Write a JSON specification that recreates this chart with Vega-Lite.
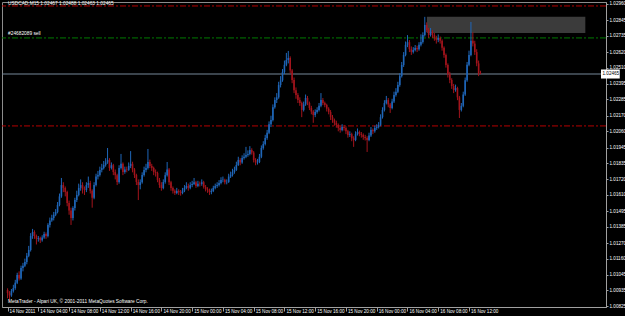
{
  "$schema": "https://vega.github.io/schema/vega-lite/v6.json",
  "width": 604,
  "height": 305,
  "autosize": {"type": "none"},
  "padding": {"left": 2, "top": 2, "right": 19, "bottom": 9},
  "background": "#000000",
  "config": {"view": {"stroke": "#8c8c8c", "strokeWidth": 1}, "font": "Liberation Sans"},
  "datasets": {
    "bars": [
{"i":0,"o":1.00938,"h":1.00950,"l":1.00880,"c":1.00917},
{"i":1,"o":1.00917,"h":1.00930,"l":1.00853,"c":1.00900},
{"i":2,"o":1.00900,"h":1.00945,"l":1.00890,"c":1.00930},
{"i":3,"o":1.00930,"h":1.00975,"l":1.00920,"c":1.00952},
{"i":4,"o":1.00952,"h":1.01010,"l":1.00940,"c":1.00990},
{"i":5,"o":1.00990,"h":1.01060,"l":1.00980,"c":1.01044},
{"i":6,"o":1.01044,"h":1.01070,"l":1.01005,"c":1.01020},
{"i":7,"o":1.01020,"h":1.01110,"l":1.01010,"c":1.01094},
{"i":8,"o":1.01094,"h":1.01130,"l":1.01070,"c":1.01110},
{"i":9,"o":1.01110,"h":1.01160,"l":1.01100,"c":1.01136},
{"i":10,"o":1.01136,"h":1.01200,"l":1.01120,"c":1.01180},
{"i":11,"o":1.01180,"h":1.01250,"l":1.01170,"c":1.01221},
{"i":12,"o":1.01221,"h":1.01340,"l":1.01210,"c":1.01320},
{"i":13,"o":1.01320,"h":1.01370,"l":1.01300,"c":1.01348},
{"i":14,"o":1.01348,"h":1.01360,"l":1.01300,"c":1.01320},
{"i":15,"o":1.01320,"h":1.01330,"l":1.01260,"c":1.01300},
{"i":16,"o":1.01300,"h":1.01320,"l":1.01280,"c":1.01306},
{"i":17,"o":1.01306,"h":1.01315,"l":1.01270,"c":1.01290},
{"i":18,"o":1.01290,"h":1.01325,"l":1.01280,"c":1.01310},
{"i":19,"o":1.01310,"h":1.01350,"l":1.01300,"c":1.01334},
{"i":20,"o":1.01334,"h":1.01345,"l":1.01300,"c":1.01320},
{"i":21,"o":1.01320,"h":1.01410,"l":1.01310,"c":1.01398},
{"i":22,"o":1.01398,"h":1.01450,"l":1.01380,"c":1.01430},
{"i":23,"o":1.01430,"h":1.01470,"l":1.01420,"c":1.01447},
{"i":24,"o":1.01447,"h":1.01490,"l":1.01430,"c":1.01470},
{"i":25,"o":1.01470,"h":1.01510,"l":1.01460,"c":1.01490},
{"i":26,"o":1.01490,"h":1.01560,"l":1.01480,"c":1.01539},
{"i":27,"o":1.01539,"h":1.01620,"l":1.01530,"c":1.01600},
{"i":28,"o":1.01600,"h":1.01730,"l":1.01590,"c":1.01680},
{"i":29,"o":1.01680,"h":1.01700,"l":1.01630,"c":1.01660},
{"i":30,"o":1.01660,"h":1.01670,"l":1.01600,"c":1.01631},
{"i":31,"o":1.01631,"h":1.01640,"l":1.01530,"c":1.01553},
{"i":32,"o":1.01553,"h":1.01570,"l":1.01470,"c":1.01500},
{"i":33,"o":1.01500,"h":1.01520,"l":1.01398,"c":1.01447},
{"i":34,"o":1.01447,"h":1.01530,"l":1.01430,"c":1.01518},
{"i":35,"o":1.01518,"h":1.01590,"l":1.01500,"c":1.01574},
{"i":36,"o":1.01574,"h":1.01640,"l":1.01560,"c":1.01610},
{"i":37,"o":1.01610,"h":1.01690,"l":1.01600,"c":1.01660},
{"i":38,"o":1.01660,"h":1.01720,"l":1.01640,"c":1.01680},
{"i":39,"o":1.01680,"h":1.01700,"l":1.01620,"c":1.01650},
{"i":40,"o":1.01650,"h":1.01670,"l":1.01610,"c":1.01645},
{"i":41,"o":1.01645,"h":1.01700,"l":1.01630,"c":1.01680},
{"i":42,"o":1.01680,"h":1.01740,"l":1.01660,"c":1.01695},
{"i":43,"o":1.01695,"h":1.01710,"l":1.01620,"c":1.01640},
{"i":44,"o":1.01640,"h":1.01650,"l":1.01520,"c":1.01590},
{"i":45,"o":1.01590,"h":1.01700,"l":1.01580,"c":1.01680},
{"i":46,"o":1.01680,"h":1.01760,"l":1.01670,"c":1.01740},
{"i":47,"o":1.01740,"h":1.01780,"l":1.01720,"c":1.01751},
{"i":48,"o":1.01751,"h":1.01810,"l":1.01740,"c":1.01787},
{"i":49,"o":1.01787,"h":1.01830,"l":1.01770,"c":1.01800},
{"i":50,"o":1.01800,"h":1.01850,"l":1.01790,"c":1.01822},
{"i":51,"o":1.01822,"h":1.01870,"l":1.01810,"c":1.01840},
{"i":52,"o":1.01840,"h":1.01942,"l":1.01830,"c":1.01857},
{"i":53,"o":1.01857,"h":1.01870,"l":1.01780,"c":1.01801},
{"i":54,"o":1.01801,"h":1.01840,"l":1.01790,"c":1.01820},
{"i":55,"o":1.01820,"h":1.01830,"l":1.01750,"c":1.01772},
{"i":56,"o":1.01772,"h":1.01790,"l":1.01720,"c":1.01750},
{"i":57,"o":1.01750,"h":1.01760,"l":1.01680,"c":1.01702},
{"i":58,"o":1.01702,"h":1.01820,"l":1.01690,"c":1.01801},
{"i":59,"o":1.01801,"h":1.01900,"l":1.01790,"c":1.01830},
{"i":60,"o":1.01830,"h":1.01840,"l":1.01750,"c":1.01772},
{"i":61,"o":1.01772,"h":1.01810,"l":1.01760,"c":1.01790},
{"i":62,"o":1.01790,"h":1.01810,"l":1.01770,"c":1.01787},
{"i":63,"o":1.01787,"h":1.01840,"l":1.01780,"c":1.01815},
{"i":64,"o":1.01815,"h":1.01920,"l":1.01800,"c":1.01830},
{"i":65,"o":1.01830,"h":1.01845,"l":1.01770,"c":1.01790},
{"i":66,"o":1.01790,"h":1.01800,"l":1.01730,"c":1.01751},
{"i":67,"o":1.01751,"h":1.01760,"l":1.01680,"c":1.01702},
{"i":68,"o":1.01702,"h":1.01720,"l":1.01574,"c":1.01680},
{"i":69,"o":1.01680,"h":1.01720,"l":1.01650,"c":1.01700},
{"i":70,"o":1.01700,"h":1.01770,"l":1.01690,"c":1.01751},
{"i":71,"o":1.01751,"h":1.01810,"l":1.01740,"c":1.01787},
{"i":72,"o":1.01787,"h":1.01830,"l":1.01770,"c":1.01800},
{"i":73,"o":1.01800,"h":1.01935,"l":1.01790,"c":1.01843},
{"i":74,"o":1.01843,"h":1.01860,"l":1.01800,"c":1.01815},
{"i":75,"o":1.01815,"h":1.01830,"l":1.01780,"c":1.01801},
{"i":76,"o":1.01801,"h":1.01810,"l":1.01750,"c":1.01772},
{"i":77,"o":1.01772,"h":1.01790,"l":1.01740,"c":1.01765},
{"i":78,"o":1.01765,"h":1.01775,"l":1.01700,"c":1.01716},
{"i":79,"o":1.01716,"h":1.01730,"l":1.01660,"c":1.01680},
{"i":80,"o":1.01680,"h":1.01700,"l":1.01640,"c":1.01659},
{"i":81,"o":1.01659,"h":1.01720,"l":1.01650,"c":1.01702},
{"i":82,"o":1.01702,"h":1.01770,"l":1.01690,"c":1.01750},
{"i":83,"o":1.01750,"h":1.01843,"l":1.01740,"c":1.01790},
{"i":84,"o":1.01790,"h":1.01800,"l":1.01680,"c":1.01700},
{"i":85,"o":1.01700,"h":1.01710,"l":1.01640,"c":1.01659},
{"i":86,"o":1.01659,"h":1.01670,"l":1.01620,"c":1.01640},
{"i":87,"o":1.01640,"h":1.01650,"l":1.01610,"c":1.01624},
{"i":88,"o":1.01624,"h":1.01660,"l":1.01615,"c":1.01638},
{"i":89,"o":1.01638,"h":1.01650,"l":1.01610,"c":1.01630},
{"i":90,"o":1.01630,"h":1.01645,"l":1.01605,"c":1.01624},
{"i":91,"o":1.01624,"h":1.01660,"l":1.01615,"c":1.01640},
{"i":92,"o":1.01640,"h":1.01680,"l":1.01630,"c":1.01660},
{"i":93,"o":1.01660,"h":1.01700,"l":1.01650,"c":1.01673},
{"i":94,"o":1.01673,"h":1.01690,"l":1.01640,"c":1.01660},
{"i":95,"o":1.01660,"h":1.01700,"l":1.01650,"c":1.01680},
{"i":96,"o":1.01680,"h":1.01710,"l":1.01665,"c":1.01688},
{"i":97,"o":1.01688,"h":1.01730,"l":1.01680,"c":1.01700},
{"i":98,"o":1.01700,"h":1.01710,"l":1.01660,"c":1.01673},
{"i":99,"o":1.01673,"h":1.01710,"l":1.01665,"c":1.01690},
{"i":100,"o":1.01690,"h":1.01705,"l":1.01670,"c":1.01688},
{"i":101,"o":1.01688,"h":1.01720,"l":1.01675,"c":1.01700},
{"i":102,"o":1.01700,"h":1.01710,"l":1.01655,"c":1.01666},
{"i":103,"o":1.01666,"h":1.01680,"l":1.01635,"c":1.01650},
{"i":104,"o":1.01650,"h":1.01665,"l":1.01625,"c":1.01645},
{"i":105,"o":1.01645,"h":1.01655,"l":1.01610,"c":1.01630},
{"i":106,"o":1.01630,"h":1.01655,"l":1.01615,"c":1.01638},
{"i":107,"o":1.01638,"h":1.01675,"l":1.01630,"c":1.01660},
{"i":108,"o":1.01660,"h":1.01690,"l":1.01650,"c":1.01673},
{"i":109,"o":1.01673,"h":1.01700,"l":1.01660,"c":1.01680},
{"i":110,"o":1.01680,"h":1.01715,"l":1.01670,"c":1.01695},
{"i":111,"o":1.01695,"h":1.01735,"l":1.01685,"c":1.01716},
{"i":112,"o":1.01716,"h":1.01740,"l":1.01700,"c":1.01718},
{"i":113,"o":1.01718,"h":1.01725,"l":1.01685,"c":1.01700},
{"i":114,"o":1.01700,"h":1.01720,"l":1.01685,"c":1.01702},
{"i":115,"o":1.01702,"h":1.01760,"l":1.01695,"c":1.01740},
{"i":116,"o":1.01740,"h":1.01775,"l":1.01730,"c":1.01751},
{"i":117,"o":1.01751,"h":1.01795,"l":1.01740,"c":1.01772},
{"i":118,"o":1.01772,"h":1.01810,"l":1.01760,"c":1.01787},
{"i":119,"o":1.01787,"h":1.01845,"l":1.01780,"c":1.01822},
{"i":120,"o":1.01822,"h":1.01880,"l":1.01815,"c":1.01857},
{"i":121,"o":1.01857,"h":1.01870,"l":1.01820,"c":1.01840},
{"i":122,"o":1.01840,"h":1.01890,"l":1.01830,"c":1.01871},
{"i":123,"o":1.01871,"h":1.01905,"l":1.01860,"c":1.01880},
{"i":124,"o":1.01880,"h":1.01950,"l":1.01870,"c":1.01893},
{"i":125,"o":1.01893,"h":1.01925,"l":1.01880,"c":1.01900},
{"i":126,"o":1.01900,"h":1.01955,"l":1.01890,"c":1.01928},
{"i":127,"o":1.01928,"h":1.01940,"l":1.01895,"c":1.01910},
{"i":128,"o":1.01910,"h":1.01920,"l":1.01840,"c":1.01857},
{"i":129,"o":1.01857,"h":1.01870,"l":1.01820,"c":1.01840},
{"i":130,"o":1.01840,"h":1.01865,"l":1.01825,"c":1.01843},
{"i":131,"o":1.01843,"h":1.01900,"l":1.01835,"c":1.01880},
{"i":132,"o":1.01880,"h":1.01960,"l":1.01870,"c":1.01942},
{"i":133,"o":1.01942,"h":1.01990,"l":1.01930,"c":1.01970},
{"i":134,"o":1.01970,"h":1.02035,"l":1.01960,"c":1.02013},
{"i":135,"o":1.02013,"h":1.02070,"l":1.02000,"c":1.02050},
{"i":136,"o":1.02050,"h":1.02130,"l":1.02040,"c":1.02110},
{"i":137,"o":1.02110,"h":1.02170,"l":1.02090,"c":1.02140},
{"i":138,"o":1.02140,"h":1.02250,"l":1.02130,"c":1.02230},
{"i":139,"o":1.02230,"h":1.02300,"l":1.02220,"c":1.02281},
{"i":140,"o":1.02281,"h":1.02330,"l":1.02260,"c":1.02300},
{"i":141,"o":1.02300,"h":1.02410,"l":1.02290,"c":1.02387},
{"i":142,"o":1.02387,"h":1.02450,"l":1.02370,"c":1.02420},
{"i":143,"o":1.02420,"h":1.02500,"l":1.02410,"c":1.02479},
{"i":144,"o":1.02479,"h":1.02560,"l":1.02465,"c":1.02530},
{"i":145,"o":1.02530,"h":1.02614,"l":1.02520,"c":1.02564},
{"i":146,"o":1.02564,"h":1.02628,"l":1.02540,"c":1.02578},
{"i":147,"o":1.02578,"h":1.02590,"l":1.02470,"c":1.02490},
{"i":148,"o":1.02490,"h":1.02500,"l":1.02400,"c":1.02423},
{"i":149,"o":1.02423,"h":1.02440,"l":1.02330,"c":1.02350},
{"i":150,"o":1.02350,"h":1.02370,"l":1.02290,"c":1.02317},
{"i":151,"o":1.02317,"h":1.02330,"l":1.02260,"c":1.02281},
{"i":152,"o":1.02281,"h":1.02300,"l":1.02240,"c":1.02260},
{"i":153,"o":1.02260,"h":1.02270,"l":1.02160,"c":1.02211},
{"i":154,"o":1.02211,"h":1.02270,"l":1.02200,"c":1.02250},
{"i":155,"o":1.02250,"h":1.02320,"l":1.02240,"c":1.02296},
{"i":156,"o":1.02296,"h":1.02310,"l":1.02245,"c":1.02260},
{"i":157,"o":1.02260,"h":1.02270,"l":1.02210,"c":1.02225},
{"i":158,"o":1.02225,"h":1.02240,"l":1.02180,"c":1.02200},
{"i":159,"o":1.02200,"h":1.02210,"l":1.02120,"c":1.02175},
{"i":160,"o":1.02175,"h":1.02215,"l":1.02160,"c":1.02197},
{"i":161,"o":1.02197,"h":1.02230,"l":1.02185,"c":1.02211},
{"i":162,"o":1.02211,"h":1.02260,"l":1.02200,"c":1.02240},
{"i":163,"o":1.02240,"h":1.02330,"l":1.02230,"c":1.02281},
{"i":164,"o":1.02281,"h":1.02295,"l":1.02245,"c":1.02260},
{"i":165,"o":1.02260,"h":1.02270,"l":1.02230,"c":1.02246},
{"i":166,"o":1.02246,"h":1.02255,"l":1.02200,"c":1.02220},
{"i":167,"o":1.02220,"h":1.02230,"l":1.02180,"c":1.02197},
{"i":168,"o":1.02197,"h":1.02210,"l":1.02140,"c":1.02160},
{"i":169,"o":1.02160,"h":1.02175,"l":1.02120,"c":1.02140},
{"i":170,"o":1.02140,"h":1.02150,"l":1.02100,"c":1.02120},
{"i":171,"o":1.02120,"h":1.02135,"l":1.02085,"c":1.02105},
{"i":172,"o":1.02105,"h":1.02115,"l":1.02060,"c":1.02083},
{"i":173,"o":1.02083,"h":1.02095,"l":1.02050,"c":1.02069},
{"i":174,"o":1.02069,"h":1.02110,"l":1.02060,"c":1.02090},
{"i":175,"o":1.02090,"h":1.02105,"l":1.02065,"c":1.02083},
{"i":176,"o":1.02083,"h":1.02095,"l":1.02040,"c":1.02060},
{"i":177,"o":1.02060,"h":1.02070,"l":1.02015,"c":1.02034},
{"i":178,"o":1.02034,"h":1.02060,"l":1.02020,"c":1.02040},
{"i":179,"o":1.02040,"h":1.02050,"l":1.01990,"c":1.02010},
{"i":180,"o":1.02010,"h":1.02025,"l":1.01950,"c":1.01999},
{"i":181,"o":1.01999,"h":1.02060,"l":1.01990,"c":1.02040},
{"i":182,"o":1.02040,"h":1.02080,"l":1.02030,"c":1.02055},
{"i":183,"o":1.02055,"h":1.02065,"l":1.02025,"c":1.02040},
{"i":184,"o":1.02040,"h":1.02055,"l":1.02015,"c":1.02034},
{"i":185,"o":1.02034,"h":1.02045,"l":1.02000,"c":1.02020},
{"i":186,"o":1.02020,"h":1.02035,"l":1.01995,"c":1.02013},
{"i":187,"o":1.02013,"h":1.02025,"l":1.01914,"c":1.01999},
{"i":188,"o":1.01999,"h":1.02050,"l":1.01990,"c":1.02030},
{"i":189,"o":1.02030,"h":1.02090,"l":1.02020,"c":1.02069},
{"i":190,"o":1.02069,"h":1.02080,"l":1.02040,"c":1.02060},
{"i":191,"o":1.02060,"h":1.02100,"l":1.02050,"c":1.02083},
{"i":192,"o":1.02083,"h":1.02110,"l":1.02070,"c":1.02090},
{"i":193,"o":1.02090,"h":1.02125,"l":1.02080,"c":1.02105},
{"i":194,"o":1.02105,"h":1.02180,"l":1.02095,"c":1.02160},
{"i":195,"o":1.02160,"h":1.02230,"l":1.02150,"c":1.02211},
{"i":196,"o":1.02211,"h":1.02280,"l":1.02200,"c":1.02260},
{"i":197,"o":1.02260,"h":1.02310,"l":1.02250,"c":1.02281},
{"i":198,"o":1.02281,"h":1.02295,"l":1.02230,"c":1.02250},
{"i":199,"o":1.02250,"h":1.02260,"l":1.02190,"c":1.02225},
{"i":200,"o":1.02225,"h":1.02290,"l":1.02215,"c":1.02270},
{"i":201,"o":1.02270,"h":1.02340,"l":1.02260,"c":1.02317},
{"i":202,"o":1.02317,"h":1.02365,"l":1.02305,"c":1.02340},
{"i":203,"o":1.02340,"h":1.02410,"l":1.02330,"c":1.02387},
{"i":204,"o":1.02387,"h":1.02470,"l":1.02375,"c":1.02450},
{"i":205,"o":1.02450,"h":1.02550,"l":1.02440,"c":1.02529},
{"i":206,"o":1.02529,"h":1.02620,"l":1.02515,"c":1.02600},
{"i":207,"o":1.02600,"h":1.02695,"l":1.02590,"c":1.02671},
{"i":208,"o":1.02671,"h":1.02740,"l":1.02655,"c":1.02690},
{"i":209,"o":1.02690,"h":1.02705,"l":1.02620,"c":1.02640},
{"i":210,"o":1.02640,"h":1.02660,"l":1.02600,"c":1.02621},
{"i":211,"o":1.02621,"h":1.02655,"l":1.02610,"c":1.02635},
{"i":212,"o":1.02635,"h":1.02670,"l":1.02625,"c":1.02649},
{"i":213,"o":1.02649,"h":1.02665,"l":1.02620,"c":1.02640},
{"i":214,"o":1.02640,"h":1.02690,"l":1.02630,"c":1.02671},
{"i":215,"o":1.02671,"h":1.02745,"l":1.02660,"c":1.02691},
{"i":216,"o":1.02691,"h":1.02760,"l":1.02680,"c":1.02740},
{"i":217,"o":1.02740,"h":1.02869,"l":1.02730,"c":1.02812},
{"i":218,"o":1.02812,"h":1.02830,"l":1.02760,"c":1.02776},
{"i":219,"o":1.02776,"h":1.02790,"l":1.02720,"c":1.02741},
{"i":220,"o":1.02741,"h":1.02790,"l":1.02730,"c":1.02762},
{"i":221,"o":1.02762,"h":1.02775,"l":1.02720,"c":1.02741},
{"i":222,"o":1.02741,"h":1.02755,"l":1.02700,"c":1.02720},
{"i":223,"o":1.02720,"h":1.02735,"l":1.02680,"c":1.02706},
{"i":224,"o":1.02706,"h":1.02745,"l":1.02690,"c":1.02720},
{"i":225,"o":1.02720,"h":1.02730,"l":1.02680,"c":1.02700},
{"i":226,"o":1.02700,"h":1.02710,"l":1.02630,"c":1.02650},
{"i":227,"o":1.02650,"h":1.02660,"l":1.02580,"c":1.02600},
{"i":228,"o":1.02600,"h":1.02610,"l":1.02510,"c":1.02529},
{"i":229,"o":1.02529,"h":1.02540,"l":1.02440,"c":1.02465},
{"i":230,"o":1.02465,"h":1.02480,"l":1.02400,"c":1.02423},
{"i":231,"o":1.02423,"h":1.02435,"l":1.02360,"c":1.02380},
{"i":232,"o":1.02380,"h":1.02395,"l":1.02330,"c":1.02352},
{"i":233,"o":1.02352,"h":1.02390,"l":1.02340,"c":1.02366},
{"i":234,"o":1.02366,"h":1.02375,"l":1.02280,"c":1.02300},
{"i":235,"o":1.02300,"h":1.02310,"l":1.02154,"c":1.02211},
{"i":236,"o":1.02211,"h":1.02260,"l":1.02200,"c":1.02240},
{"i":237,"o":1.02240,"h":1.02340,"l":1.02230,"c":1.02320},
{"i":238,"o":1.02320,"h":1.02440,"l":1.02310,"c":1.02420},
{"i":239,"o":1.02420,"h":1.02550,"l":1.02410,"c":1.02530},
{"i":240,"o":1.02530,"h":1.02630,"l":1.02520,"c":1.02600},
{"i":241,"o":1.02600,"h":1.02833,"l":1.02590,"c":1.02700},
{"i":242,"o":1.02700,"h":1.02760,"l":1.02660,"c":1.02680},
{"i":243,"o":1.02680,"h":1.02700,"l":1.02600,"c":1.02620},
{"i":244,"o":1.02620,"h":1.02640,"l":1.02520,"c":1.02540},
{"i":245,"o":1.02540,"h":1.02560,"l":1.02450,"c":1.02467},
{"i":246,"o":1.02467,"h":1.02488,"l":1.02463,"c":1.02465}
    ]
  },
  "layer": [
    {
      "data": {"values": [{"a": 218.1, "b": 300.5, "top": 1.02869, "bot": 1.02755}]},
      "mark": {"type": "rect", "fill": "#3b3b3b"},
      "encoding": {
        "x": {
          "field": "a", "type": "quantitative",
          "scale": {"domain": [-0.3, 308.65], "nice": false, "zero": false},
          "axis": {
            "orient": "bottom",
            "values": [0, 16, 32, 48, 64, 80, 96, 112, 128, 144, 160, 176, 192, 208, 224, 240],
            "tickCount": 40,
            "labelExpr": "['14 Nov 2011','14 Nov 04:00','14 Nov 08:00','14 Nov 12:00','14 Nov 16:00','14 Nov 20:00','15 Nov 00:00','15 Nov 04:00','15 Nov 08:00','15 Nov 12:00','15 Nov 16:00','15 Nov 20:00','16 Nov 00:00','16 Nov 04:00','16 Nov 08:00','16 Nov 12:00'][round(datum.value/16)]",
            "labelAlign": "left",
            "labelBaseline": "top",
            "labelOffset": 1.5,
            "labelPadding": -2.5,
            "labelFontSize": 4.6,
            "labelColor": "#ffffff",
            "labelFont": "Liberation Sans",
            "labelOverlap": false,
            "labelBound": false,
            "labelFlush": false,
            "tickSize": 4,
            "tickColor": "#a0a0a0",
            "domainColor": "#a0a0a0",
            "grid": false,
            "title": null
          }
        },
        "x2": {"field": "b"},
        "y": {
          "field": "top", "type": "quantitative",
          "scale": {"domain": [1.00818, 1.02974], "nice": false, "zero": false},
          "axis": {
            "orient": "right",
            "values": [1.00825, 1.00935, 1.01045, 1.01160, 1.01270, 1.01385, 1.01495, 1.01610, 1.01720, 1.01835, 1.01945, 1.02060, 1.02170, 1.02285, 1.02395, 1.02510, 1.02620, 1.02735, 1.02845, 1.02960],
            "tickCount": 40,
            "labelExpr": "format(datum.value, '.5f')",
            "labelAlign": "left",
            "labelBaseline": "middle",
            "labelPadding": 1,
            "labelFontSize": 4.6,
            "labelColor": "#ffffff",
            "labelFont": "Liberation Sans",
            "labelOverlap": false,
            "labelBound": false,
            "labelFlush": false,
            "tickSize": 2,
            "tickColor": "#a0a0a0",
            "domainColor": "#a0a0a0",
            "grid": false,
            "title": null
          }
        },
        "y2": {"field": "bot"}
      }
    },
    {
      "data": {"values": [
        {"p": 1.02946},
        {"p": 1.02098}
      ]},
      "mark": {"type": "rule", "color": "#b40000", "strokeWidth": 1, "strokeDash": [6, 2, 2, 2]},
      "encoding": {"y": {"field": "p", "type": "quantitative"}}
    },
    {
      "data": {"values": [{"p": 1.02720}]},
      "mark": {"type": "rule", "color": "#007a00", "strokeWidth": 1, "strokeDash": [6, 2, 2, 2]},
      "encoding": {"y": {"field": "p", "type": "quantitative"}}
    },
    {
      "data": {"values": [{"p": 1.02465}]},
      "mark": {"type": "rule", "color": "#778899", "strokeWidth": 1},
      "encoding": {"y": {"field": "p", "type": "quantitative"}}
    },
    {
      "data": {"name": "bars"},
      "mark": {"type": "rule", "strokeWidth": 1},
      "encoding": {
        "x": {"field": "i", "type": "quantitative"},
        "y": {"field": "l", "type": "quantitative"},
        "y2": {"field": "h"},
        "color": {"condition": {"test": "datum.c >= datum.o", "value": "#1f66b8"}, "value": "#a3141c"}
      }
    },
    {
      "data": {"name": "bars"},
      "mark": {"type": "bar", "size": 1.6},
      "encoding": {
        "x": {"field": "i", "type": "quantitative"},
        "y": {"field": "o", "type": "quantitative"},
        "y2": {"field": "c"},
        "color": {"condition": {"test": "datum.c >= datum.o", "value": "#1f66b8"}, "value": "#a3141c"}
      }
    },
    {
      "data": {"values": [{"i": 308.65, "j": 318.4, "p": 1.02465, "t": "1.02465", "top": 1.02497, "bot": 1.02433}]},
      "layer": [
        {
          "mark": {"type": "rect", "fill": "#ffffff", "clip": false},
          "encoding": {
            "x": {"field": "i", "type": "quantitative"},
            "x2": {"field": "j"},
            "y": {"field": "top", "type": "quantitative"},
            "y2": {"field": "bot"}
          }
        },
        {
          "mark": {"type": "text", "align": "left", "baseline": "middle", "dx": 1.5, "fontSize": 4.6, "color": "#000000", "font": "Liberation Sans"},
          "encoding": {
            "x": {"field": "i", "type": "quantitative"},
            "y": {"field": "p", "type": "quantitative"},
            "text": {"field": "t"}
          }
        }
      ]
    },
    {
      "data": {"values": [
        {"i": 0, "p": 1.02957, "t": "USDCAD,M15  1.02467 1.02488 1.02463 1.02465"},
        {"i": 0, "p": 1.02748, "t": "#24682089 sell"},
        {"i": 0, "p": 1.00852, "t": "MetaTrader - Alpari UK, © 2001-2011 MetaQuotes Software Corp."}
      ]},
      "mark": {"type": "text", "align": "left", "baseline": "middle", "dx": 0.5, "fontSize": 4.8, "color": "#ffffff", "font": "Liberation Sans"},
      "encoding": {
        "x": {"field": "i", "type": "quantitative"},
        "y": {"field": "p", "type": "quantitative"},
        "text": {"field": "t"}
      }
    }
  ]
}
